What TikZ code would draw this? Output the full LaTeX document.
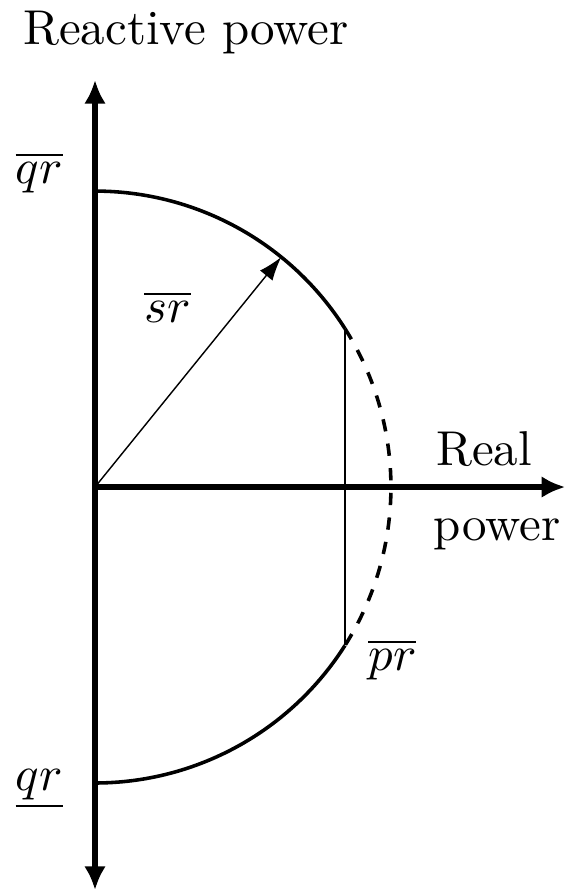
\documentclass[tikz,border=0pt]{standalone}
\usepackage{amsmath,amssymb}
\usetikzlibrary{arrows.meta,calc}

\tikzset{
  axis/.style={line width=1.3pt, -{Latex[length=5pt,width=4.6pt]}},
  circ/.style={line width=0.75pt},
  lbl/.style={anchor=base, inner sep=0pt, scale=1.03}
}

\begin{document}
\begin{tikzpicture}
    \useasboundingbox (-0.703,-3.004) rectangle (3.485,3.604);
    \def\rad{2.19}
    \pgfmathsetmacro{\ang}{acos(1.85/\rad)}
    \coordinate (O) at (0,0);
    \coordinate (ytop) at (0,3.012);
    \coordinate (ybot) at (0,-2.982);
    \coordinate (xend) at (3.48,0);
    \coordinate (A) at (\ang:\rad);
    \coordinate (B) at (-\ang:\rad);
    \coordinate (S) at (51:\rad);
    % capability curve
    \draw[circ] (0,\rad) arc[start angle=90, end angle=\ang, radius=\rad];
    \draw[circ, dash pattern=on 2.6pt off 2.6pt] (A) arc[start angle=\ang, end angle=-\ang, radius=\rad];
    \draw[circ] (B) arc[start angle=-\ang, end angle=-90, radius=\rad];
    \draw[line width=0.45pt] (A) -- (B);
    \draw[line width=0.3pt, -{Latex[length=5pt,width=3.4pt]}] (O) -- (S);
    % axes
    \draw[axis] (O) -- (xend);
    \draw[axis, {Latex[length=5pt,width=4.6pt]}-{Latex[length=5pt,width=4.6pt]}] (ybot) -- (ytop);
    \node[lbl] (ylab) at (0.673,3.278) {Reactive power};
    \node[lbl, anchor=base west] (xlab1) at (2.516,0.163) {Real};
    \node[lbl, anchor=base west] (xlab2) at (2.501,-0.392) {power};
    \node[lbl] (qmax) at (-0.414,2.249) {$\overline{qr}$};
    \node[lbl] (qmin) at (-0.414,-2.242) {$\underline{qr}$};
    \node[lbl] (smax) at (0.536,1.221) {$\overline{sr}$};
    \node[lbl] (pmax) at (2.201,-1.354) {$\overline{pr}$};
\end{tikzpicture}
\end{document}
